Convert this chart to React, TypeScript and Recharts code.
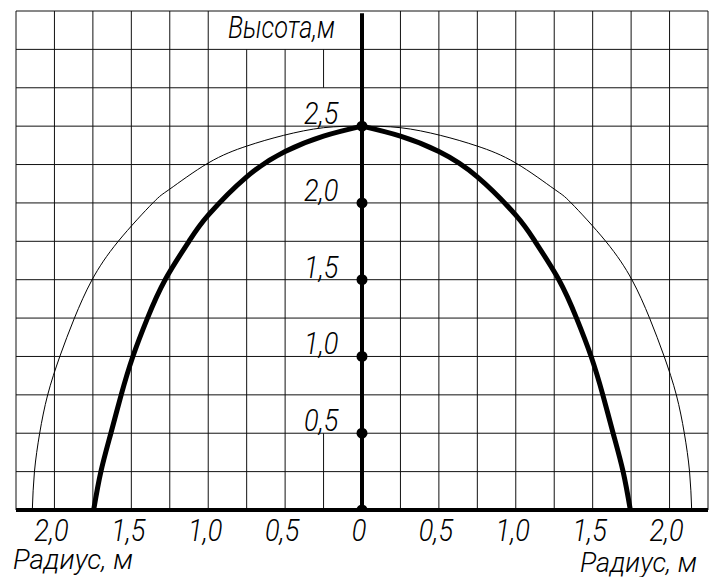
import React from 'react';
import { ComposedChart, Line, XAxis, YAxis, Scatter, ReferenceLine } from 'recharts';

// grid every 0.25 m
const gridX = [-2.25, -2, -1.75, -1.5, -1.25, -1, -0.75, -0.5, -0.25, 0.25, 0.5, 0.75, 1, 1.25, 1.5, 1.75, 2, 2.25];
const gridY = [0.25, 0.5, 0.75, 1, 1.25, 1.5, 1.75, 2, 2.25, 2.5, 2.75, 3, 3.25];
const xTicks = [-2, -1.5, -1, -0.5, 0, 0.5, 1, 1.5, 2];
const axisMarks = [0, 0.5, 1, 1.5, 2, 2.5];

// thick profile, one half (radius, height)
const thickR = [0, 0.25, 0.5, 0.75, 1.0, 1.125, 1.28, 1.395, 1.49, 1.566, 1.633, 1.698, 1.745];
const thickH = [2.5, 2.435, 2.335, 2.17, 1.92, 1.75, 1.5, 1.25, 1.0, 0.75, 0.5, 0.25, 0];

// thin outer contour, one half (radius, height)
const thinR = [0, 0.25, 0.51, 0.75, 1.0, 1.25, 1.36, 1.585, 1.755, 1.87, 1.965, 2.044, 2.096, 2.13, 2.144];
const thinH = [2.5, 2.49, 2.44, 2.37, 2.26, 2.09, 2.0, 1.75, 1.5, 1.25, 1.0, 0.75, 0.5, 0.25, 0];

const FONT = 'Roboto, "Liberation Sans", sans-serif';

const thickLeft = thickR.map((r, i) => ({ r: -r, h: thickH[i] })).reverse();
const thickRight = thickR.map((r, i) => ({ r, h: thickH[i] }));
const thin = [
  ...thinR.map((r, i) => ({ r: -r, h: thinH[i] })).reverse(),
  ...thinR.slice(1).map((r, i) => ({ r, h: thinH[i + 1] })),
];
const dots = axisMarks.map((h) => ({ r: 0, h }));

const fmt = (v: number) => (v === 0 ? '0' : Math.abs(v).toFixed(1).replace('.', ','));

// top row behind "Высота,м" and the column behind the height labels stay blank
const topCut = [-0.75, -0.5, -0.25];
const vSegments = gridX.flatMap((x) => {
  const top = topCut.includes(x) ? 3 : 3.25;
  if (x === -0.25) return [{ x, y0: 0, y1: 0.5 }, { x, y0: 2.75, y1: top }];
  return [{ x, y0: 0, y1: top }];
});

const Num = ({ x, y, anchor, children }: any) => (
  <g transform={`translate(${x},${y}) scale(0.85,1)`}>
    <text textAnchor={anchor} fontFamily={FONT} fontStyle="italic" fontWeight={300} fontSize={32} fill="#000">
      {children}
    </text>
  </g>
);

const XTick = (props: any) => {
  const { x, y, payload } = props;
  return (
    <Num x={x - 3} y={y + 29} anchor="middle">
      {fmt(payload.value)}
    </Num>
  );
};

const AxisDot = (props: any) => {
  const { cx, cy, payload } = props;
  return (
    <g>
      <circle cx={cx} cy={cy} r={5.5} fill="#000" />
      {payload.h > 0 && (
        <Num x={cx - 58} y={cy - 2} anchor="start">
          {fmt(payload.h)}
        </Num>
      )}
    </g>
  );
};

const Title = ({ x, y, width, children }: any) => (
  <g transform={`translate(${x},${y}) scale(1,1.08)`}>
    <text fontSize={26} textLength={width} lengthAdjust="spacingAndGlyphs">
      {children}
    </text>
  </g>
);

export default function App() {
  return (
    <div style={{ position: 'absolute', left: 0, top: 0, width: 711, height: 577, background: '#fff' }}>
      <ComposedChart width={711} height={577} margin={{ top: 11, right: 3, bottom: 27, left: 16 }}>
        <XAxis
          type="number"
          dataKey="r"
          domain={[-2.25, 2.25]}
          allowDataOverflow
          ticks={xTicks}
          tick={<XTick />}
          axisLine={false}
          tickLine={false}
          tickSize={0}
          height={40}
        />
        <YAxis type="number" dataKey="h" domain={[0, 3.25]} allowDataOverflow hide />
        {vSegments.map((s, i) => (
          <ReferenceLine
            key={'v' + i}
            segment={[{ x: s.x, y: s.y0 }, { x: s.x, y: s.y1 }]}
            stroke="#111"
            strokeWidth={1}
            ifOverflow="visible"
          />
        ))}
        {gridY.map((y) => (
          <ReferenceLine key={'h' + y} y={y} stroke="#111" strokeWidth={1} ifOverflow="visible" />
        ))}
        <ReferenceLine y={0} stroke="#000" strokeWidth={4} ifOverflow="visible" />
        <ReferenceLine
          segment={[{ x: 0, y: 0 }, { x: 0, y: 3.235 }]}
          stroke="#000"
          strokeWidth={4}
          ifOverflow="visible"
        />
        <Line data={thin} dataKey="h" type="natural" stroke="#000" strokeWidth={1} dot={false} isAnimationActive={false} />
        <Line data={thickLeft} dataKey="h" type="natural" stroke="#000" strokeWidth={5} dot={false} isAnimationActive={false} />
        <Line data={thickRight} dataKey="h" type="natural" stroke="#000" strokeWidth={5} dot={false} isAnimationActive={false} />
        <Scatter data={dots} dataKey="h" shape={<AxisDot />} isAnimationActive={false} />
      </ComposedChart>
      <svg width={711} height={577} style={{ position: 'absolute', left: 0, top: 0, pointerEvents: 'none' }}>
        <g fontFamily={FONT} fontStyle="italic" fontWeight={300} fill="#000">
          <text x={228} y={38} fontSize={31} textLength={107} lengthAdjust="spacingAndGlyphs">Высота,м</text>
          <Title x={13} y={569} width={120}>Радиус, м</Title>
          <Title x={580} y={572} width={117}>Радиус, м</Title>
        </g>
      </svg>
    </div>
  );
}
